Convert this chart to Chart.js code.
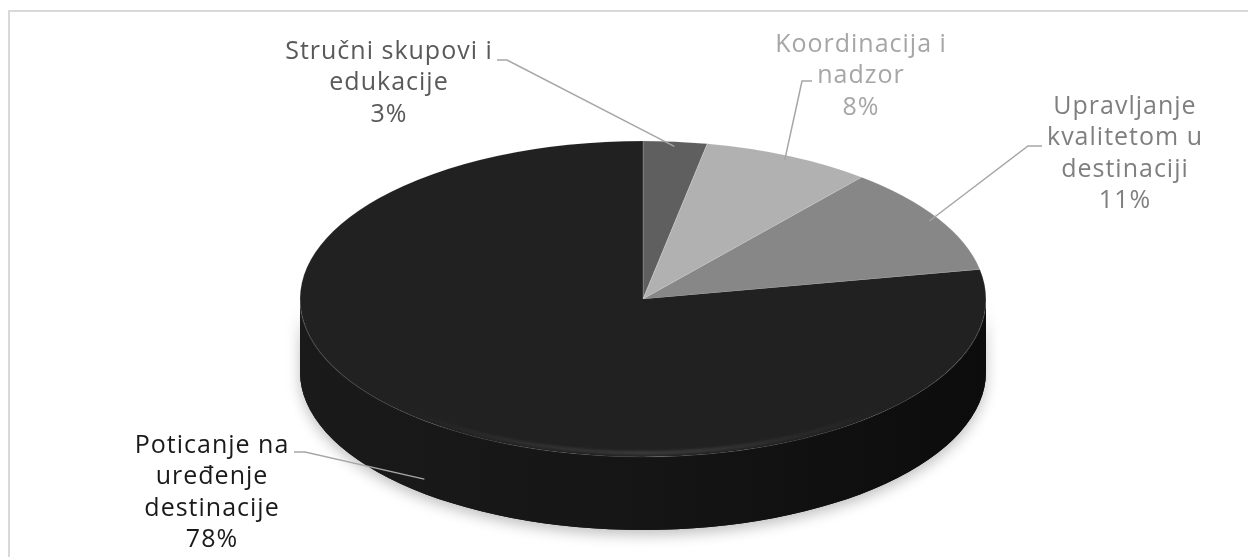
<!DOCTYPE html>
<html>
<head>
<meta charset="utf-8">
<script src="https://cdn.jsdelivr.net/npm/chart.js@4"></script>
<style>
html, body { margin: 0; background: #fff; }
canvas { display: block; }
</style>
</head>
<body>
<canvas id="chart1" width="1248" height="557"></canvas>
<script>
var categories = [
    ['Stručni skupovi i', 'edukacije'],
    ['Koordinacija i', 'nadzor'],
    ['Upravljanje', 'kvalitetom u', 'destinaciji'],
    ['Poticanje na', 'uređenje', 'destinacije']
];
var values = [3, 8, 11, 78];
var sliceColors = ['#5f5f5f', '#b1b1b1', '#878787', '#212121'];
var labelColors = ['#595959', '#a6a6a6', '#7f7f7f', '#1a1a1a'];

// the pie is drawn by chart.js, then squashed into an ellipse with a side
var pie = { cx: 643, cy: 299, rx: 343, ry: 158, depth: 73 };
// label centre x, first line y, leader: [text end x, elbow x, y]
var labelPos = [
    { x: 389, y: 52, line: [497, 507, 60] },
    { x: 861, y: 45, line: [812, 802, 81] },
    { x: 1125, y: 107, line: [1042, 1028, 146] },
    { x: 212, y: 446, line: [294, 305, 452] }
];

function shade(hex, f) {
    var n = parseInt(hex.slice(1), 16);
    var r = Math.round(((n >> 16) & 255) * f), g = Math.round(((n >> 8) & 255) * f), b = Math.round((n & 255) * f);
    return 'rgb(' + r + ',' + g + ',' + b + ')';
}

function sidePath(ctx, s, e) {
    ctx.beginPath();
    ctx.ellipse(pie.cx, pie.cy, pie.rx, pie.ry, 0, s, e, false);
    ctx.ellipse(pie.cx, pie.cy + pie.depth, pie.rx, pie.ry, 0, e, s, true);
    ctx.closePath();
}

var pie3d = {
    id: 'pie3d',
    beforeDraw: function (chart) {
        var ctx = chart.ctx;
        ctx.save();
        ctx.strokeStyle = '#d9d9d9';
        ctx.lineWidth = 2;
        ctx.strokeRect(9, 11, 1260, 600);
        ctx.restore();
    },
    beforeDatasetsDraw: function (chart) {
        var ctx = chart.ctx;
        var arcs = chart.getDatasetMeta(0).data;

        // shadow under the whole front
        ctx.save();
        ctx.shadowColor = 'rgba(0,0,0,0.25)';
        ctx.shadowBlur = 14;
        ctx.shadowOffsetY = 5;
        sidePath(ctx, 0, Math.PI);
        ctx.fillStyle = '#111';
        ctx.fill();
        ctx.restore();

        // side of every slice that faces us
        arcs.forEach(function (a, i) {
            var s = Math.max(a.startAngle, 0), e = Math.min(a.endAngle, Math.PI);
            if (e <= s) return;
            var g = ctx.createLinearGradient(pie.cx - pie.rx, 0, pie.cx + pie.rx, 0);
            g.addColorStop(0, shade(sliceColors[i], 0.8));
            g.addColorStop(0.5, shade(sliceColors[i], 0.65));
            g.addColorStop(1, shade(sliceColors[i], 0.35));
            ctx.save();
            sidePath(ctx, s, e);
            ctx.fillStyle = g;
            ctx.fill();
            ctx.restore();
        });

        // squash the circular arcs into the top face
        var a0 = arcs[0];
        ctx.save();
        ctx.translate(pie.cx, pie.cy);
        ctx.scale(pie.rx / a0.outerRadius, pie.ry / a0.outerRadius);
        ctx.translate(-a0.x, -a0.y);
    },
    afterDatasetsDraw: function (chart) {
        var ctx = chart.ctx;
        ctx.restore();
        var arcs = chart.getDatasetMeta(0).data;

        // soft rim highlight on the front edge, fading to the sides
        ctx.save();
        var hg = ctx.createLinearGradient(pie.cx - pie.rx, 0, pie.cx + pie.rx, 0);
        hg.addColorStop(0.15, 'rgba(255,255,255,0)');
        hg.addColorStop(0.5, 'rgba(255,255,255,0.16)');
        hg.addColorStop(0.85, 'rgba(255,255,255,0)');
        ctx.beginPath();
        ctx.ellipse(pie.cx, pie.cy - 2, pie.rx - 3, pie.ry - 2, 0, 0.1 * Math.PI, 0.9 * Math.PI);
        ctx.strokeStyle = hg;
        ctx.lineWidth = 3;
        ctx.filter = 'blur(1.5px)';
        ctx.stroke();
        ctx.restore();

        // labels with leader lines
        var total = values.reduce(function (s, v) { return s + v; }, 0);
        ctx.save();
        ctx.font = '25px "Open Sans"';
        ctx.letterSpacing = '1px';
        ctx.textAlign = 'center';
        ctx.textBaseline = 'middle';
        arcs.forEach(function (a, i) {
            var p = labelPos[i];
            var mid = (a.startAngle + a.endAngle) / 2;
            var front = Math.sin(mid) > 0.2;
            var ax = pie.cx + pie.rx * (front ? 1 : 0.97) * Math.cos(mid);
            var ay = pie.cy + pie.ry * (front ? 1 : 0.97) * Math.sin(mid) + (front ? pie.depth * 0.8 : 0);
            ctx.strokeStyle = '#a6a6a6';
            ctx.lineWidth = 1.5;
            ctx.beginPath();
            ctx.moveTo(p.line[0], p.line[2]);
            ctx.lineTo(p.line[1], p.line[2]);
            ctx.lineTo(ax, ay);
            ctx.stroke();

            var lines = categories[i].concat([Math.round(values[i] / total * 100) + '%']);
            ctx.fillStyle = labelColors[i];
            lines.forEach(function (t, k) {
                ctx.fillText(t, p.x, p.y + k * 31.3);
            });
        });
        ctx.restore();
    }
};

var ctx1 = document.getElementById('chart1').getContext('2d');
var chart1 = new Chart(ctx1, {
    type: 'pie',
    data: {
        labels: categories,
        datasets: [{
            data: values,
            backgroundColor: sliceColors,
            borderColor: 'rgba(255,255,255,0.15)',
            borderWidth: 1
        }]
    },
    options: {
        responsive: false,
        animation: false,
        events: [],
        plugins: {
            legend: { display: false },
            tooltip: { enabled: false }
        }
    },
    plugins: [pie3d]
});
</script>
</body>
</html>
